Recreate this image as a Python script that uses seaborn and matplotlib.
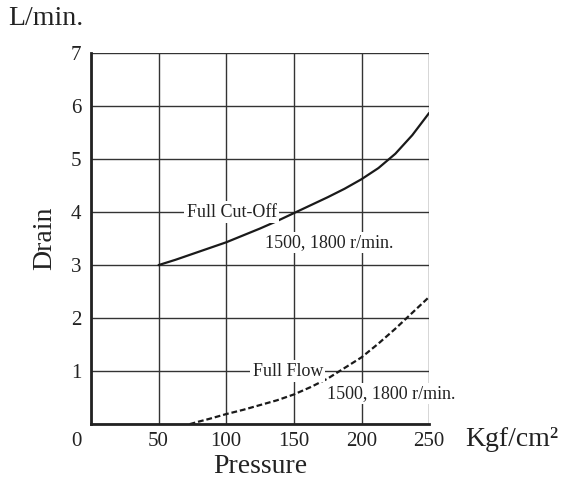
import numpy as np
import pandas as pd
import matplotlib
matplotlib.use("Agg")
import matplotlib.pyplot as plt
import seaborn as sns

# values
cutoff_pressure = [50, 62.5, 75, 87.5, 100, 112.5, 125, 137.5, 150, 162.5,
                   175, 187.5, 200, 212.5, 225, 237.5, 250]
cutoff_drain = [3.00, 3.10, 3.21, 3.32, 3.43, 3.56, 3.69, 3.83, 3.98, 4.13,
                4.28, 4.44, 4.62, 4.83, 5.10, 5.45, 5.87]

flow_pressure = [73, 80, 87.5, 100, 112.5, 125, 137.5, 150, 162.5, 175,
                 187.5, 200, 212.5, 225, 237.5, 250]
flow_drain = [0.00, 0.05, 0.10, 0.19, 0.27, 0.36, 0.45, 0.56, 0.70, 0.86,
              1.06, 1.26, 1.52, 1.80, 2.10, 2.40]

x_ticks = [0, 50, 100, 150, 200, 250]
x_labels = ["", "50", "100", "150", "200", "250"]
y_ticks = [0, 1, 2, 3, 4, 5, 6, 7]
y_labels = ["", "1", "2", "3", "4", "5", "6", "7"]
minor_x = [25, 75, 125, 175, 225]

sns.set_style("white")
plt.rcParams["font.family"] = ["Liberation Serif", "DejaVu Serif"]

cutoff = pd.DataFrame({"pressure": cutoff_pressure, "drain": cutoff_drain})
flow = pd.DataFrame({"pressure": flow_pressure, "drain": flow_drain})

fig = plt.figure(figsize=(5.61, 4.82), dpi=100)
ax = fig.add_axes([0.162, 0.120, 0.603, 0.770])

sns.lineplot(data=cutoff, x="pressure", y="drain", ax=ax, color="#1a1a1a", linewidth=1.6)
sns.lineplot(data=flow, x="pressure", y="drain", ax=ax, color="#1a1a1a",
             linewidth=1.6, linestyle=(0, (2.6, 1.3)))

ax.set_xlim(0, 250)
ax.set_ylim(0, 7)
ax.set_xticks(x_ticks)
ax.set_xticklabels(x_labels)
ax.set_yticks(y_ticks)
ax.set_yticklabels(y_labels)
ax.set_xticks(minor_x, minor=True)
ax.grid(True, which="major", color="#333333", linewidth=1.0)
ax.set_axisbelow(True)

for side in ["top", "right"]:
    ax.spines[side].set_visible(False)
for side in ["left", "bottom"]:
    ax.spines[side].set_color("#222222")
    ax.spines[side].set_linewidth(2.0)

ax.tick_params(axis="both", which="major", length=0, labelsize=15,
               labelcolor="#222222")
ax.tick_params(axis="y", which="major", pad=7)
ax.tick_params(axis="x", which="major", pad=6)
ax.tick_params(axis="x", which="minor", direction="in", length=7,
               width=1.0, color="#333333")

# shared origin label sits left of the corner
ax.text(-10.4, -0.32, "0", fontsize=15, color="#222222", ha="center",
        va="center", clip_on=False)

ax.set_xlabel("Pressure", fontsize=20, color="#222222", labelpad=2)
ax.set_ylabel("Drain", fontsize=20, color="#222222", labelpad=10)

fig.text(0.014, 0.962, "L/min.", fontsize=20, color="#222222", va="center")
ax.text(1.107, -0.04, "Kgf/cm²", transform=ax.transAxes, fontsize=20,
        color="#222222", va="center", ha="left")

box = dict(facecolor="white", edgecolor="none", pad=1.5)
ax.text(104, 4.0, "Full Cut-Off", fontsize=13, ha="center", va="center",
        color="#222222", bbox=box)
ax.text(176, 3.42, "1500, 1800 r/min.", fontsize=13, ha="center", va="center",
        color="#222222", bbox=box)
ax.text(145.5, 1.0, "Full Flow", fontsize=13, ha="center", va="center",
        color="#222222", bbox=box)
ax.text(222, 0.58, "1500, 1800 r/min.", fontsize=13, ha="center", va="center",
        color="#222222", bbox=box, clip_on=False)

fig.savefig("out.png", dpi=100)
